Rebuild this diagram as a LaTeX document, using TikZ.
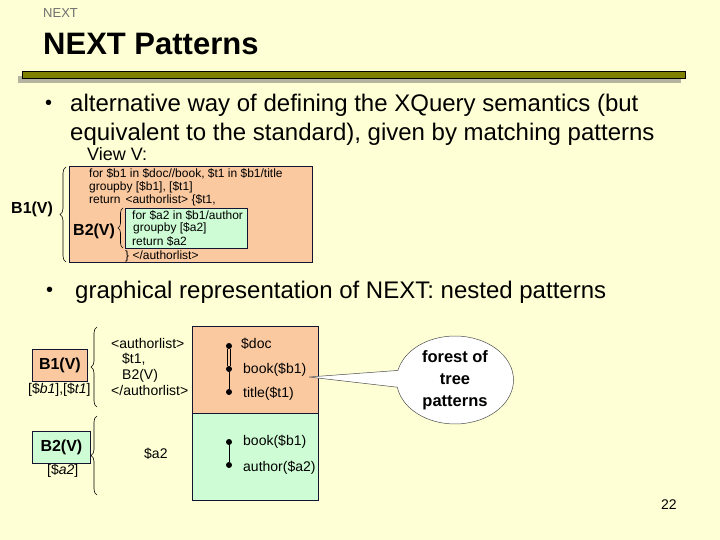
\documentclass[tikz,border=0pt]{standalone}
\usepackage{fontspec}
\setmainfont{Liberation Sans}
\usetikzlibrary{shapes.callouts,decorations.pathreplacing}
\definecolor{bg}{RGB}{255,255,213}
\definecolor{peach}{RGB}{250,201,160}
\definecolor{mint}{RGB}{206,252,212}
\definecolor{olive}{RGB}{128,128,0}
\definecolor{shade}{RGB}{180,180,160}
\definecolor{edge}{RGB}{20,20,50}
\definecolor{smallgray}{RGB}{110,110,110}
\newcommand\fsz[1]{\fontsize{#1}{#1}\selectfont}
\begin{document}
\begin{tikzpicture}[x=1pt,y=-1pt,
  txt/.style={inner sep=0pt, anchor=base west},
  bul/.style={txt, font=\fsz{24}},
  code/.style={txt, font=\fsz{12}},
  low/.style={txt, font=\fsz{14}},
  box/.style={draw=edge, line width=0.8pt, inner sep=0pt, anchor=north west},
  bracepath/.style={decorate, decoration={brace, amplitude=#1}, line width=0.6pt, draw=black},
  dot/.style={circle, fill=black, inner sep=0pt, minimum size=6pt},
  treeedge/.style={line width=1pt, draw=black}
]
\useasboundingbox (0,0) rectangle (720,540);
\fill[bg] (0,0) rectangle (720,540);

% header
\node (hdr) [txt, font=\fsz{13}, text=smallgray] at (43,18) {NEXT};
\node (title) [txt, font=\fsz{31}\bfseries] at (43,55) {NEXT Patterns};
\node (barshadow) [fill=shade, inner sep=0pt, minimum width=663pt, minimum height=7pt, anchor=north west] at (18,76) {};
\node (bar) [fill=olive, draw=black, line width=0.8pt, inner sep=0pt, minimum width=663pt, minimum height=7pt, anchor=north west] at (22,71) {};

% bullet 1
\node (b1dot) [txt, font=\fsz{20}] at (45,110) {•};
\node (b1l1) [bul] at (70,112) {alternative way of defining the XQuery semantics (but};
\node (b1l2) [bul] at (70,141) {equivalent to the standard), given by matching patterns};
\node (viewv) [txt, font=\fsz{18}] at (87,161) {View V:};

% view box
\node (viewbox) [box, fill=peach, minimum width=243pt, minimum height=96pt] at (69,166) {};
\node (c1) [code] at (89,178) {for \$b1 in \$doc//book, \$t1 in \$b1/title};
\node (c2) [code] at (89,191) {groupby [\$b1], [\$t1]};
\node (c3) [code] at (89,204) {return\hspace{5pt}<authorlist> \{\$t1,};
\node (innerbox) [box, fill=mint, minimum width=122pt, minimum height=40pt] at (125,208) {};
\node (c4) [code] at (132,220) {for \$a2 in \$b1/author};
\node (c5) [code] at (133,232) {groupby [\$a2]};
\node (c6) [code] at (132,245) {return \$a2};
\node (c7) [code] at (125,259) {\} </authorlist>};

\node (B1top) [txt, font=\fsz{16}\bfseries] at (11,214) {B1(V)};
\draw[bracepath=6pt] (66,262) -- (66,167);
\node (B2top) [txt, font=\fsz{16}\bfseries] at (73,236) {B2(V)};
\draw[bracepath=5pt] (123,248) -- (123,208);

% bullet 2
\node (b2dot) [txt, font=\fsz{20}] at (46,296) {•};
\node (b2l1) [bul] at (75,298) {graphical representation of NEXT: nested patterns};

% lower left
\node (B1box) [box, fill=peach, minimum width=55pt, minimum height=32pt] at (32,349) {};
\node (B1txt) at (B1box.center) {\fsz{16}\bfseries B1(V)};
\node (B1lab) [txt, font=\fsz{14}] at (28,393) {[\$\textit{b1}],[\$\textit{t1}]};
\node (B2box) [box, fill=mint, minimum width=58pt, minimum height=32pt] at (32,431) {};
\node (B2txt) at (B2box.center) {\fsz{16}\bfseries B2(V)};
\node (B2lab) [txt, font=\fsz{14}] at (47,474) {[\$\textit{a2}]};
\draw[bracepath=6pt] (97,407) -- (97,327);
\draw[bracepath=6pt] (97,495) -- (97,416);

\node (al1) [low] at (111,348) {<authorlist>};
\node (al2) [low] at (122,363) {\$t1,};
\node (al3) [low] at (122,379) {B2(V)};
\node (al4) [low] at (111,395) {</authorlist>};
\node (a2) [low] at (144,458) {\$a2};

% pattern boxes
\node (pat1) [box, fill=peach, minimum width=126pt, minimum height=87pt] at (192,326) {};
\node (pat2) [box, fill=mint, minimum width=126pt, minimum height=87pt] at (192,413) {};

\node (d1) [dot] at (229,346) {};
\node (d2) [dot] at (229,369) {};
\node (d3) [dot] at (229,392) {};
\draw[treeedge, double=peach, double distance=2.6pt, line width=0.9pt] (d1) -- (d2);
\draw[treeedge] (d2) -- (d3);
\node (l1) [low] at (241,348) {\$doc};
\node (l2) [low] at (243,373) {book(\$b1)};
\node (l3) [low] at (243,397) {title(\$t1)};

\node (e1) [dot] at (229,442) {};
\node (e2) [dot] at (229,465) {};
\draw[treeedge] (e1) -- (e2);
\node (m1) [low] at (243,445) {book(\$b1)};
\node (m2) [low] at (243,471) {author(\$a2)};

% callout
\coordinate (tip) at (309,377);
\node (forest) [ellipse callout, draw=black!70, line width=0.5pt, fill=white, minimum width=117pt, minimum height=88pt, inner sep=0pt, callout absolute pointer={(tip)}, callout pointer arc=22, align=center, font={\fontsize{16.5}{22}\selectfont\bfseries}] at (455,380) {forest of\\tree\\patterns};

\node (pg) [txt, font=\fsz{14}] at (661,509) {22};
\end{tikzpicture}
\end{document}
